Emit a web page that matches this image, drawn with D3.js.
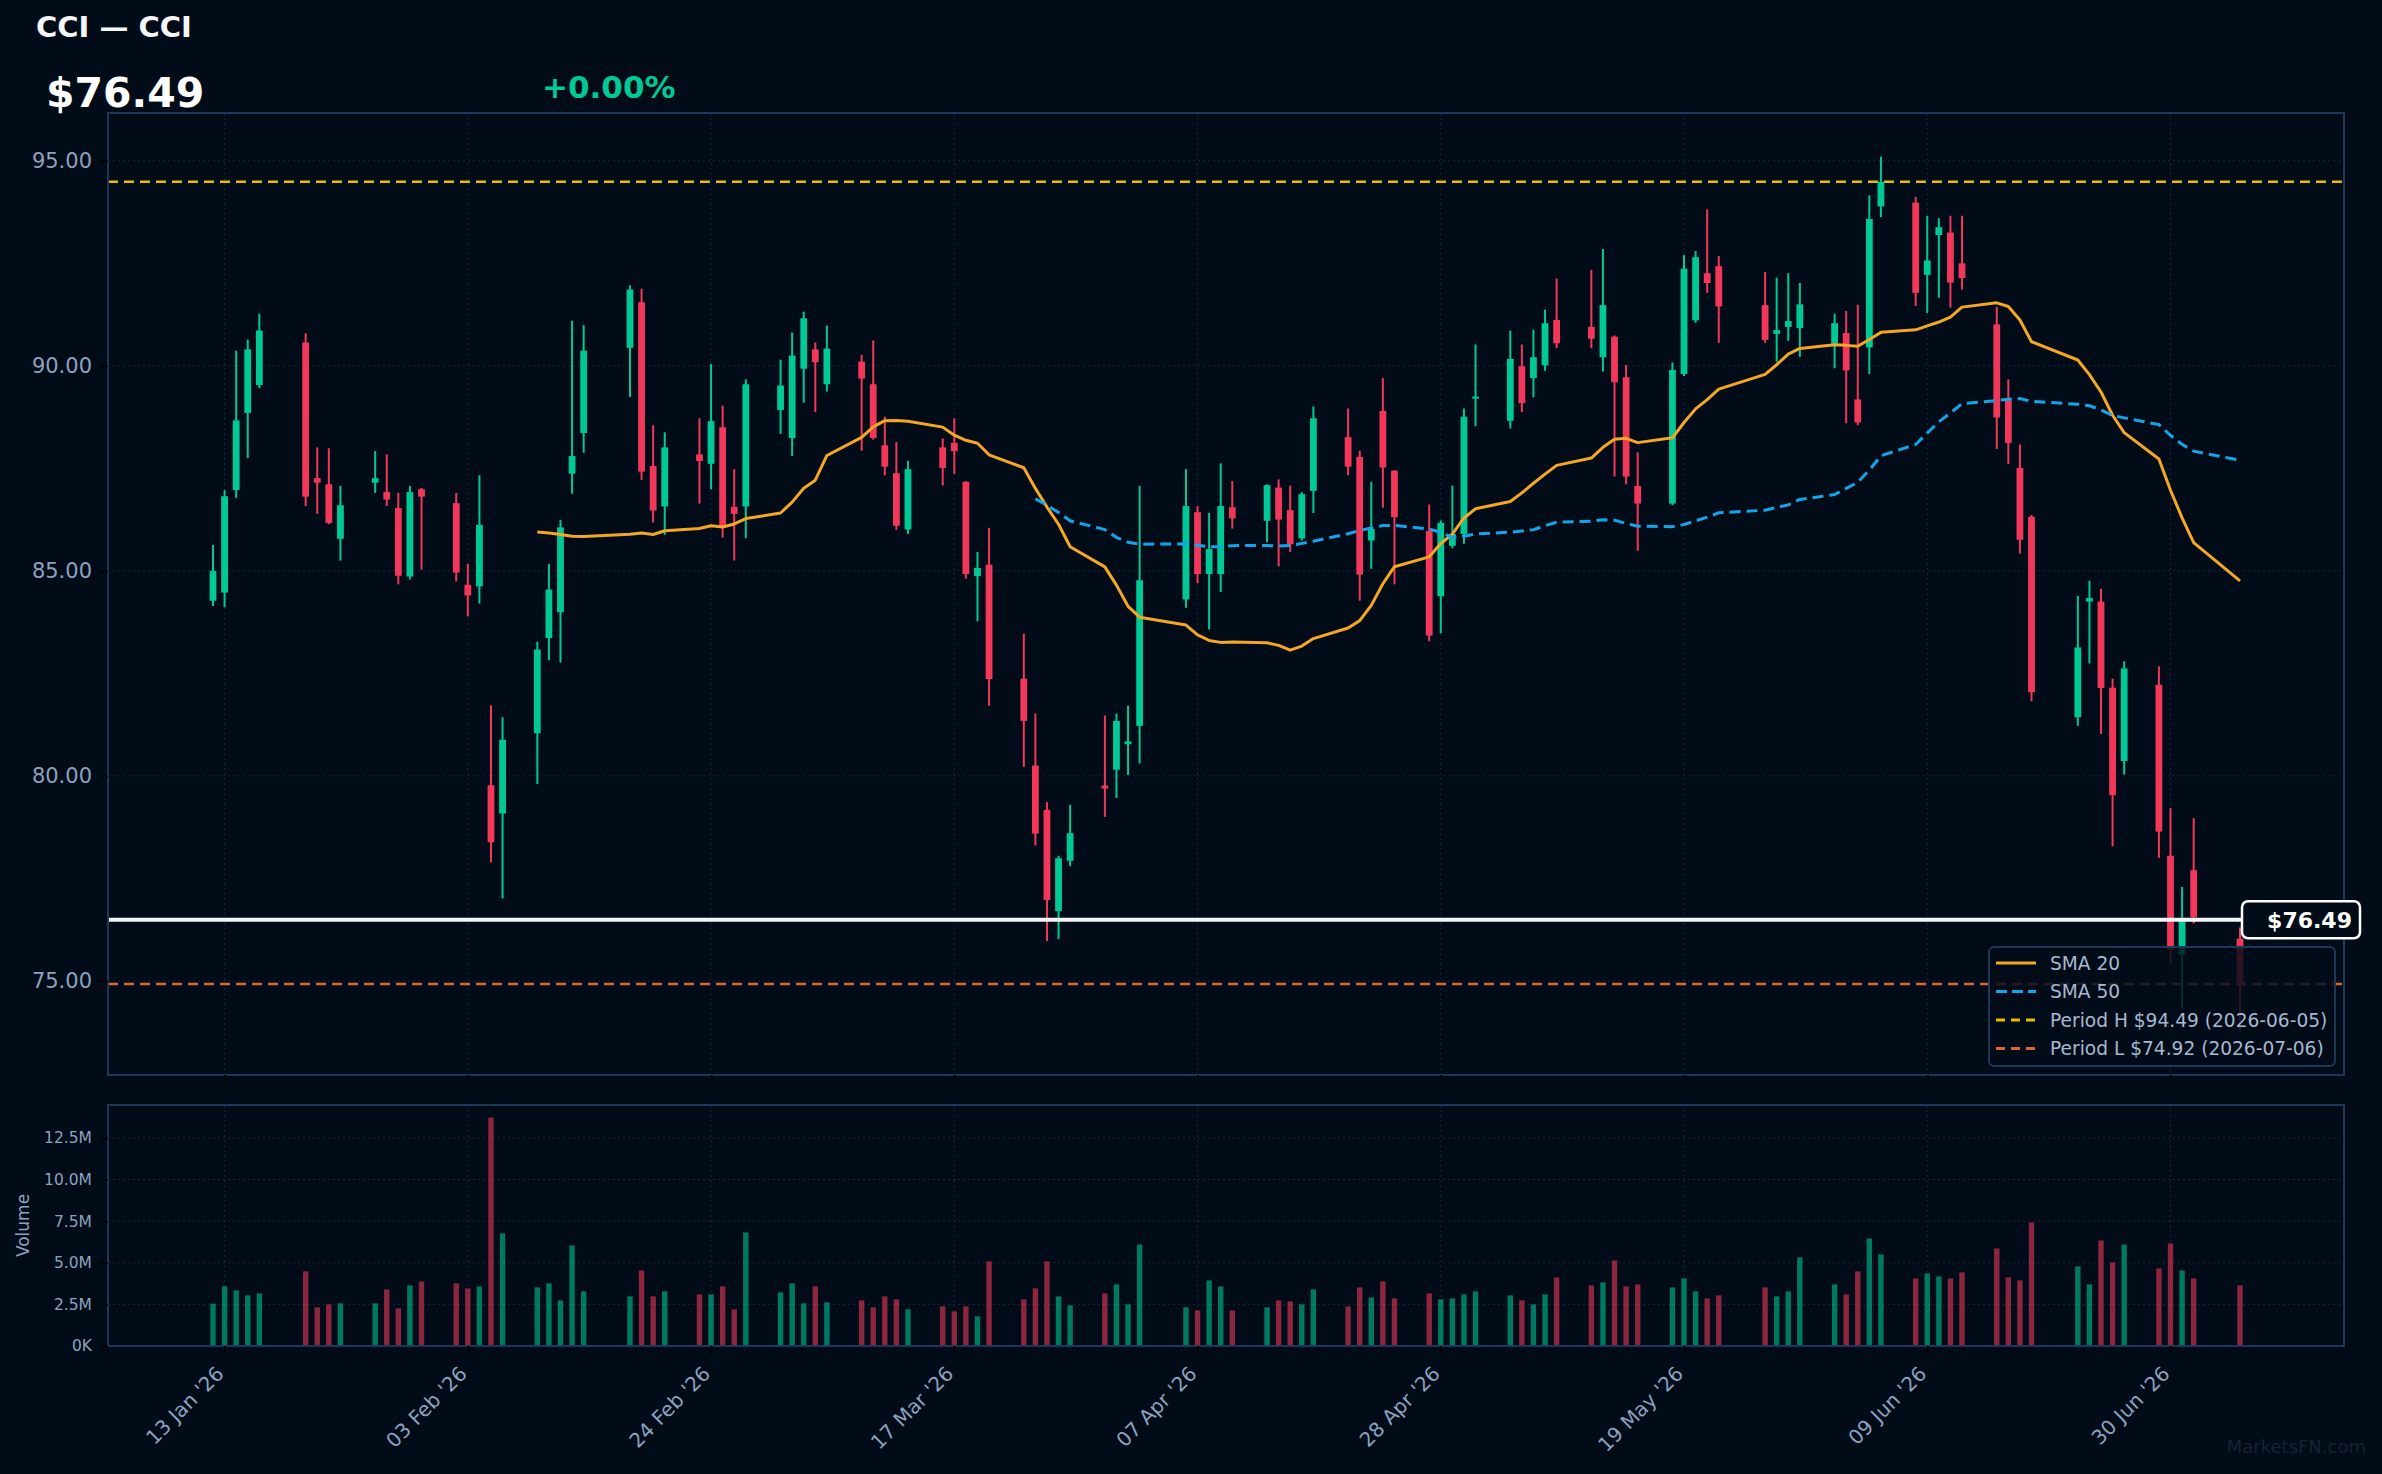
<!DOCTYPE html>
<html>
<head>
<meta charset="utf-8">
<script src="https://cdn.jsdelivr.net/npm/d3@7"></script>
<style>
  html, body { margin: 0; padding: 0; background: #010c18; }
  svg { display: block; font-family: "DejaVu Sans", sans-serif; }
</style>
</head>
<body>
<div id="chart"></div>
<script>
// ---- data ----
const dates = [
  "2026-01-12","2026-01-13","2026-01-14","2026-01-15","2026-01-16",
  "2026-01-20","2026-01-21","2026-01-22","2026-01-23",
  "2026-01-26","2026-01-27","2026-01-28","2026-01-29","2026-01-30",
  "2026-02-02","2026-02-03","2026-02-04","2026-02-05","2026-02-06",
  "2026-02-09","2026-02-10","2026-02-11","2026-02-12","2026-02-13",
  "2026-02-17","2026-02-18","2026-02-19","2026-02-20",
  "2026-02-23","2026-02-24","2026-02-25","2026-02-26","2026-02-27",
  "2026-03-02","2026-03-03","2026-03-04","2026-03-05","2026-03-06",
  "2026-03-09","2026-03-10","2026-03-11","2026-03-12","2026-03-13",
  "2026-03-16","2026-03-17","2026-03-18","2026-03-19","2026-03-20",
  "2026-03-23","2026-03-24","2026-03-25","2026-03-26","2026-03-27",
  "2026-03-30","2026-03-31","2026-04-01","2026-04-02",
  "2026-04-06","2026-04-07","2026-04-08","2026-04-09","2026-04-10",
  "2026-04-13","2026-04-14","2026-04-15","2026-04-16","2026-04-17",
  "2026-04-20","2026-04-21","2026-04-22","2026-04-23","2026-04-24",
  "2026-04-27","2026-04-28","2026-04-29","2026-04-30","2026-05-01",
  "2026-05-04","2026-05-05","2026-05-06","2026-05-07","2026-05-08",
  "2026-05-11","2026-05-12","2026-05-13","2026-05-14","2026-05-15",
  "2026-05-18","2026-05-19","2026-05-20","2026-05-21","2026-05-22",
  "2026-05-26","2026-05-27","2026-05-28","2026-05-29",
  "2026-06-01","2026-06-02","2026-06-03","2026-06-04","2026-06-05",
  "2026-06-08","2026-06-09","2026-06-10","2026-06-11","2026-06-12",
  "2026-06-15","2026-06-16","2026-06-17","2026-06-18",
  "2026-06-22","2026-06-23","2026-06-24","2026-06-25","2026-06-26",
  "2026-06-29","2026-06-30","2026-07-01","2026-07-02","2026-07-06"
];

const opens = [
  84.27,84.47,86.97,88.85,89.53, 90.57,87.26,87.11,85.78, 87.15,86.92,86.53,84.86,86.99,
  86.65,84.66,84.62,79.77,79.08, 81.04,83.36,83.99,87.37,88.36, 90.44,91.55,87.56,86.57,
  87.84,87.61,88.50,86.56,86.57, 88.92,88.24,89.93,90.40,89.55, 90.10,89.55,88.06,87.38,86.01,
  88.01,88.12,87.17,84.87,85.15, 82.37,80.25,79.17,76.70,77.93, 79.76,80.15,80.77,81.22,
  84.30,86.43,84.92,84.92,86.55, 86.22,87.03,86.48,85.79,86.95, 88.26,87.78,85.74,88.90,87.44,
  85.97,84.38,85.61,85.90,89.20, 88.66,89.99,89.70,90.01,91.12, 90.95,90.21,90.71,89.72,87.07,
  86.64,89.80,91.11,92.26,92.43, 91.48,90.78,90.95,90.92, 90.54,90.80,89.18,90.45,93.89,
  93.98,92.22,93.19,93.25,92.50, 91.01,89.17,87.51,86.32, 81.43,84.25,84.25,82.15,80.36,
  82.22,78.05,75.64,77.70,76.03
];
const highs = [
  85.63,86.97,90.37,90.64,91.27, 90.79,88.01,87.99,87.07, 87.92,87.84,86.90,87.07,87.02,
  86.90,85.17,87.33,81.72,81.43, 83.27,85.17,86.24,91.10,90.99, 91.96,91.88,88.55,88.38,
  88.72,90.04,89.03,87.48,89.67, 90.15,90.81,91.32,90.57,90.98, 90.27,90.62,88.76,88.14,87.68,
  88.23,88.72,87.19,85.46,86.05, 83.47,81.52,79.36,78.05,79.29, 81.47,81.52,81.71,87.07,
  87.48,86.58,86.41,87.62,87.19, 87.11,87.23,87.08,86.92,89.01, 88.96,87.93,87.17,89.70,87.46,
  86.62,86.23,87.08,88.96,90.52, 90.86,90.52,90.88,91.37,92.13, 92.34,92.85,90.74,90.02,87.89,
  90.08,92.70,92.80,93.82,92.68, 92.29,92.15,92.26,92.02, 91.27,91.34,91.49,94.16,95.10,
  94.12,93.66,93.60,93.66,93.66, 91.44,89.67,88.08,86.36, 84.39,84.76,84.56,82.37,82.79,
  82.67,79.21,77.29,78.97,76.30
];
const lows = [
  84.14,84.11,86.78,87.75,89.46, 86.58,86.39,86.14,85.25, 86.90,86.58,84.67,84.79,85.03,
  84.74,83.89,84.20,77.89,77.01, 79.80,82.82,82.76,86.88,87.88, 89.24,87.22,86.18,85.88,
  86.64,86.99,85.81,85.25,85.80, 88.34,87.80,89.10,88.87,89.37, 87.93,88.20,87.33,86.00,85.90,
  87.08,87.36,84.81,83.77,81.71, 80.22,78.30,75.97,76.02,77.80, 79.00,79.46,80.02,80.30,
  84.10,84.70,83.57,84.48,86.03, 85.70,85.11,85.46,85.74,86.41, 87.33,84.27,85.05,86.54,84.67,
  83.28,83.48,85.55,85.66,88.53, 88.47,88.87,89.23,89.88,90.43, 90.43,89.86,87.30,87.11,85.49,
  86.60,89.75,91.05,91.78,90.56, 90.56,90.10,90.61,90.22, 89.94,88.60,88.55,89.80,93.63,
  91.46,91.29,91.66,91.42,91.86, 87.97,87.60,85.42,81.82, 81.22,82.74,81.02,78.28,80.03,
  78.00,75.40,74.33,76.40,73.77
];
const closes = [
  85.00,86.82,88.67,90.40,90.86, 86.81,87.15,86.17,86.60, 87.26,86.74,84.88,86.92,86.81,
  84.96,84.40,86.12,78.38,80.88, 83.08,84.54,86.06,87.80,90.37, 91.86,87.42,86.47,88.01,
  87.68,88.65,86.07,86.39,89.55, 89.52,90.25,91.16,90.09,90.42, 89.69,88.24,87.54,86.10,87.48,
  87.51,87.92,84.92,85.07,82.36, 81.34,78.59,76.97,77.99,78.60, 79.69,81.34,80.84,84.77,
  86.58,84.92,85.53,86.58,86.28, 87.09,86.25,85.65,86.87,88.72, 87.54,84.91,86.02,87.52,86.31,
  83.42,86.17,85.90,88.76,89.25, 90.17,89.09,90.21,91.04,90.55, 90.66,91.48,89.60,87.30,86.64,
  89.90,92.37,92.65,92.02,91.45, 90.63,90.87,91.09,91.50, 91.04,89.89,88.62,93.58,94.49,
  91.78,92.57,93.38,92.03,92.14, 88.74,88.12,85.76,82.04, 83.13,84.34,82.14,79.53,82.62,
  78.64,75.75,76.45,76.55,74.92
];
// volume in millions of shares
const volumes = [
  2.54,3.58,3.34,3.04,3.16, 4.48,2.32,2.50,2.56, 2.56,3.40,2.26,3.64,3.88,
  3.76,3.46,3.58,13.72,6.76, 3.52,3.76,2.74,6.04,3.28, 2.98,4.54,2.98,3.28,
  3.10,3.10,3.58,2.20,6.82, 3.22,3.76,2.56,3.58,2.62, 2.74,2.32,2.98,2.80,2.20,
  2.38,2.08,2.38,1.78,5.08, 2.80,3.46,5.08,2.98,2.44, 3.16,3.70,2.50,6.10,
  2.32,2.14,3.94,3.58,2.14, 2.32,2.74,2.68,2.50,3.40, 2.38,3.52,2.92,3.88,2.86,
  3.16,2.80,2.86,3.10,3.28, 3.04,2.74,2.50,3.10,4.12, 3.64,3.82,5.14,3.58,3.70,
  3.52,4.06,3.28,2.86,3.04, 3.52,2.98,3.28,5.32, 3.70,3.10,4.48,6.46,5.50,
  4.06,4.36,4.18,4.06,4.42, 5.86,4.12,3.94,7.42, 4.78,3.70,6.34,5.02,6.10,
  4.66,6.16,4.54,4.06,3.64
];

const xTickDates = ["2026-01-13","2026-02-03","2026-02-24","2026-03-17","2026-04-07",
                    "2026-04-28","2026-05-19","2026-06-09","2026-06-30"];
const priceTicks = [75, 80, 85, 90, 95];
const volumeTicks = [0, 2.5, 5, 7.5, 10, 12.5];

const ticker = "CCI";
const tickerName = "CCI";
const lastPrice = 76.49;
const changePct = 0.00;

// ---- layout ----
const W = 2382, H = 1474;
const plotLeft = 108, plotRight = 2344;
const priceTop = 113, priceBottom = 1075;
const volTop = 1105, volBottom = 1346;

const bg = "#010c18";
const upColor = "#00c896";
const downColor = "#f2385a";
const borderColor = "#1d3754";
const gridColor = "#17293d";
const tickText = "#8ca2bf";

const parse = d3.utcParse("%Y-%m-%d");
const fmtDay = d3.utcFormat("%Y-%m-%d");
const candles = dates.map((d, i) => ({
  date: parse(d), open: opens[i], high: highs[i], low: lows[i], close: closes[i], vol: volumes[i]
}));

const svg = d3.select("#chart").append("svg")
  .attr("width", W).attr("height", H);

svg.append("rect").attr("width", W).attr("height", H).attr("fill", bg);

// scales
const x = d3.scaleUtc()
  .domain([candles[0].date, candles[candles.length - 1].date])
  .range([plotLeft + 105, plotRight - 104]);

const minLow = d3.min(lows), maxHigh = d3.max(highs);
const pad = (maxHigh - minLow) * 0.05;
const y = d3.scaleLinear().domain([minLow - pad, maxHigh + pad]).range([priceBottom, priceTop]);
const yv = d3.scaleLinear().domain([0, d3.max(volumes) * 1.055]).range([volBottom, volTop]);

const xTicks = xTickDates.map(parse);

// grid
function grid(yScale, ticks, top, bottom) {
  const g = svg.append("g").attr("stroke", gridColor).attr("stroke-width", 1).attr("stroke-dasharray", "2,3");
  g.selectAll(".h").data(ticks).join("line")
    .attr("x1", plotLeft).attr("x2", plotRight)
    .attr("y1", d => yScale(d)).attr("y2", d => yScale(d));
  g.selectAll(".v").data(xTicks).join("line")
    .attr("x1", d => x(d)).attr("x2", d => x(d))
    .attr("y1", top).attr("y2", bottom);
}
grid(y, priceTicks, priceTop, priceBottom);
grid(yv, volumeTicks, volTop, volBottom);

// period high / low (by close)
const hiIdx = d3.maxIndex(closes), loIdx = d3.minIndex(closes);
const periodH = closes[hiIdx], periodL = closes[loIdx];

svg.append("line")
  .attr("x1", plotLeft).attr("x2", plotRight)
  .attr("y1", y(periodH)).attr("y2", y(periodH))
  .attr("stroke", "#e3bd00").attr("stroke-width", 2.5).attr("stroke-dasharray", "10,6");

svg.append("line")
  .attr("x1", plotLeft).attr("x2", plotRight)
  .attr("y1", y(periodL)).attr("y2", y(periodL))
  .attr("stroke", "#e2623a").attr("stroke-width", 2.5).attr("stroke-dasharray", "10,6");

// candles
const cg = svg.append("g");
cg.selectAll(".wick").data(candles).join("line")
  .attr("x1", d => x(d.date)).attr("x2", d => x(d.date))
  .attr("y1", d => y(d.high)).attr("y2", d => y(d.low))
  .attr("stroke", d => d.close >= d.open ? upColor : downColor)
  .attr("stroke-width", 2);

cg.selectAll(".body").data(candles).join("rect")
  .attr("x", d => x(d.date) - 3.4)
  .attr("width", 6.8)
  .attr("y", d => y(Math.max(d.open, d.close)))
  .attr("height", d => Math.max(1.5, Math.abs(y(d.open) - y(d.close))))
  .attr("fill", d => d.close >= d.open ? upColor : downColor);

// moving averages
function sma(n) {
  return closes.map((c, i) => i < n - 1 ? null : d3.mean(closes.slice(i - n + 1, i + 1)));
}
const sma20 = sma(20), sma50 = sma(50);

const maLine = d3.line()
  .defined(d => d.v != null)
  .x(d => x(d.date))
  .y(d => y(d.v));

svg.append("path")
  .attr("d", maLine(candles.map((c, i) => ({ date: c.date, v: sma20[i] }))))
  .attr("fill", "none").attr("stroke", "#f5a623").attr("stroke-width", 3)
  .attr("stroke-linejoin", "round");

svg.append("path")
  .attr("d", maLine(candles.map((c, i) => ({ date: c.date, v: sma50[i] }))))
  .attr("fill", "none").attr("stroke", "#12a5ea").attr("stroke-width", 3)
  .attr("stroke-dasharray", "11,6");

// last price line
svg.append("line")
  .attr("x1", plotLeft).attr("x2", 2242)
  .attr("y1", y(lastPrice)).attr("y2", y(lastPrice))
  .attr("stroke", "#f4f6f8").attr("stroke-width", 4);

// volume bars
svg.append("g").selectAll("rect").data(candles).join("rect")
  .attr("x", d => x(d.date) - 2.7)
  .attr("width", 5.4)
  .attr("y", d => yv(d.vol))
  .attr("height", d => yv(0) - yv(d.vol))
  .attr("fill", d => d.close >= d.open ? upColor : downColor)
  .attr("fill-opacity", 0.58);

// panel borders
[[priceTop, priceBottom], [volTop, volBottom]].forEach(([t, b]) => {
  svg.append("rect")
    .attr("x", plotLeft).attr("y", t)
    .attr("width", plotRight - plotLeft).attr("height", b - t)
    .attr("fill", "none").attr("stroke", borderColor).attr("stroke-width", 2);
});

// y axes
const yAxis = svg.append("g").attr("transform", `translate(${plotLeft},0)`)
  .call(d3.axisLeft(y).tickValues(priceTicks).tickFormat(d3.format(".2f")).tickSize(7).tickPadding(9));
const yvAxis = svg.append("g").attr("transform", `translate(${plotLeft},0)`)
  .call(d3.axisLeft(yv).tickValues(volumeTicks)
    .tickFormat(d => d === 0 ? "0K" : d3.format(".1f")(d) + "M").tickSize(7).tickPadding(9));

yAxis.selectAll("text").attr("font-size", 21).attr("fill", tickText);
yvAxis.selectAll("text").attr("font-size", 15.5).attr("fill", tickText);
[yAxis, yvAxis].forEach(a => {
  a.select(".domain").remove();
  a.selectAll("line").attr("stroke", "#000").attr("stroke-width", 2);
  a.selectAll("text").attr("font-family", "DejaVu Sans");
});

// x axes (ticks under both panels, labels under volume)
svg.append("g").attr("transform", `translate(0,${priceBottom})`)
  .call(d3.axisBottom(x).tickValues(xTicks).tickFormat("").tickSize(6))
  .call(g => g.select(".domain").remove())
  .call(g => g.selectAll("line").attr("stroke", "#000").attr("stroke-width", 2));

const xAxis = svg.append("g").attr("transform", `translate(0,${volBottom})`)
  .call(d3.axisBottom(x).tickValues(xTicks).tickFormat(d3.utcFormat("%d %b '%y")).tickSize(7));
xAxis.select(".domain").remove();
xAxis.selectAll("line").attr("stroke", "#000").attr("stroke-width", 2);
xAxis.selectAll("text")
  .attr("font-size", 20).attr("font-family", "DejaVu Sans").attr("fill", tickText)
  .attr("text-anchor", "end")
  .attr("y", 0).attr("dy", 0)
  .attr("transform", "translate(0,29) rotate(-45)");

// volume label
svg.append("text")
  .attr("transform", `translate(29,${(volTop + volBottom) / 2}) rotate(-90)`)
  .attr("text-anchor", "middle")
  .attr("font-size", 17).attr("fill", tickText)
  .text("Volume");

// header
svg.append("text").attr("x", 36).attr("y", 37)
  .attr("font-size", 29).attr("font-weight", "bold").attr("fill", "#f4f6f8")
  .text(`${ticker} \u2014 ${tickerName}`);

svg.append("text").attr("x", 46).attr("y", 107)
  .attr("font-size", 41).attr("font-weight", "bold").attr("fill", "#ffffff")
  .text("$" + lastPrice.toFixed(2));

svg.append("text").attr("x", 542).attr("y", 98)
  .attr("font-size", 31).attr("font-weight", "bold").attr("fill", upColor)
  .text((changePct >= 0 ? "+" : "") + changePct.toFixed(2) + "%");

// legend
const legend = svg.append("g").attr("transform", "translate(1989,947)");
legend.append("rect")
  .attr("width", 346).attr("height", 119).attr("rx", 5)
  .attr("fill", bg).attr("fill-opacity", 0.82)
  .attr("stroke", borderColor).attr("stroke-width", 2);

const legendItems = [
  { label: "SMA 20", color: "#f5a623", dash: null },
  { label: "SMA 50", color: "#12a5ea", dash: "11,5" },
  { label: `Period H $${periodH.toFixed(2)} (${fmtDay(candles[hiIdx].date)})`, color: "#e3bd00", dash: "9,6" },
  { label: `Period L $${periodL.toFixed(2)} (${fmtDay(candles[loIdx].date)})`, color: "#e2623a", dash: "9,6" }
];
legendItems.forEach((it, i) => {
  const ly = 16 + i * 28.5;
  legend.append("line")
    .attr("x1", 7).attr("x2", 47).attr("y1", ly).attr("y2", ly)
    .attr("stroke", it.color).attr("stroke-width", 3)
    .attr("stroke-dasharray", it.dash);
  legend.append("text")
    .attr("x", 61).attr("y", ly + 6.5)
    .attr("font-size", 18.6).attr("fill", "#a6b8cf")
    .text(it.label);
});

// last price tag
const tag = svg.append("g");
tag.append("rect")
  .attr("x", 2242).attr("y", y(lastPrice) - 18.5)
  .attr("width", 118).attr("height", 37).attr("rx", 6)
  .attr("fill", bg).attr("stroke", "#ffffff").attr("stroke-width", 2.5);
tag.append("text")
  .attr("x", 2352).attr("y", y(lastPrice) + 8)
  .attr("text-anchor", "end")
  .attr("font-size", 22).attr("font-weight", "bold").attr("fill", "#ffffff")
  .text("$" + lastPrice.toFixed(2));

// watermark
svg.append("text")
  .attr("x", 2366).attr("y", 1453)
  .attr("text-anchor", "end")
  .attr("font-size", 18).attr("fill", "#132335")
  .text("MarketsFN.com");
</script>
</body>
</html>
